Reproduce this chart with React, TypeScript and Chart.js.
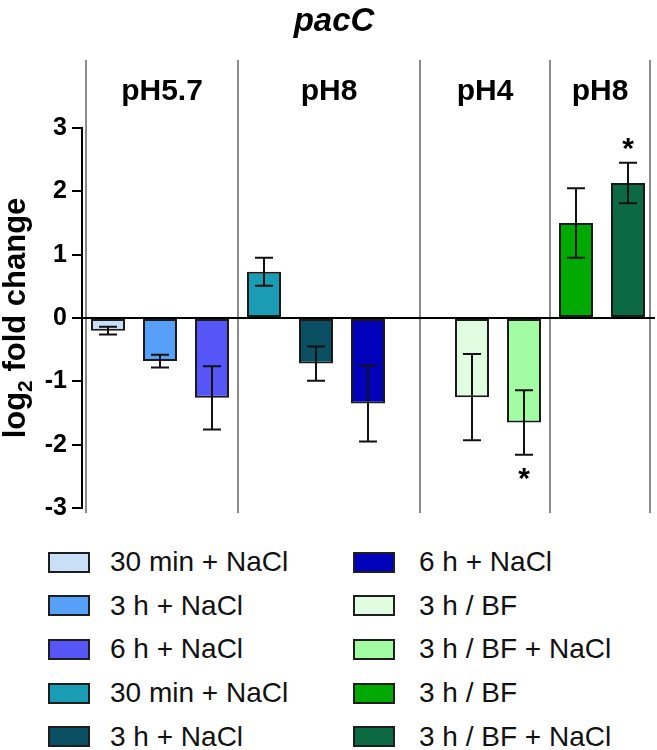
import React, { useEffect, useRef } from "react";
import { Chart, registerables } from "chart.js";

Chart.register(...registerables);

const FONT = '"Liberation Sans", Arial, Helvetica, sans-serif';

// ---- data ----
const chartTitle = "pacC";
const categories = [
  "30 min + NaCl",
  "3 h + NaCl",
  "6 h + NaCl",
  "30 min + NaCl",
  "3 h + NaCl",
  "6 h + NaCl",
  "",
  "3 h / BF",
  "3 h / BF + NaCl",
  "3 h / BF",
  "3 h / BF + NaCl",
];
const meanValues = [-0.2, -0.68, -1.26, 0.73, -0.72, -1.35, null, -1.25, -1.65, 1.5, 2.13];
const errorValues = [0.06, 0.1, 0.5, 0.22, 0.27, 0.6, null, 0.68, 0.51, 0.55, 0.32];
const significant = [false, false, false, false, false, false, false, false, true, false, true];
const barColors = [
  "#c9dff7",
  "#57a0f8",
  "#5656f8",
  "#1a9cb5",
  "#0b4f62",
  "#0202bd",
  "rgba(0,0,0,0)",
  "#e1fde1",
  "#a2fca2",
  "#02a902",
  "#0b6a42",
];
const groupLabels = ["pH5.7", "pH8", "pH4", "pH8"];
// group boundaries in category units
const groupBounds = [-0.5, 2.5, 6, 8.5, 10.5];
const yTicks = [-3, -2, -1, 0, 1, 2, 3];
const yTitleMain = "log";
const yTitleSub = "2";
const yTitleRest = " fold change";

const overlay = {
  id: "overlay",
  beforeDatasetsDraw(chart: any) {
    const ctx = chart.ctx;
    const xs = chart.scales.x;
    const area = chart.chartArea;
    ctx.save();
    ctx.strokeStyle = "#8a8a8a";
    ctx.lineWidth = 2;
    groupBounds.forEach((b, i) => {
      let px = xs.getPixelForValue(b);
      if (i === 0) px += 4;
      if (i === groupBounds.length - 1) px -= 4;
      ctx.beginPath();
      ctx.moveTo(px, 60);
      ctx.lineTo(px, area.bottom + 5);
      ctx.stroke();
    });
    ctx.restore();
  },
  afterDatasetsDraw(chart: any) {
    const ctx = chart.ctx;
    const xs = chart.scales.x;
    const ys = chart.scales.y;
    const area = chart.chartArea;
    ctx.save();
    // zero line
    const y0 = ys.getPixelForValue(0);
    ctx.strokeStyle = "#000";
    ctx.lineWidth = 2;
    ctx.beginPath();
    ctx.moveTo(area.left, y0);
    ctx.lineTo(area.right + 1, y0);
    ctx.stroke();
    // error bars
    ctx.strokeStyle = "#111";
    ctx.lineWidth = 2;
    meanValues.forEach((m, i) => {
      if (m == null) return;
      const e = errorValues[i] as number;
      const cx = xs.getPixelForValue(i);
      const yt = ys.getPixelForValue(m + e);
      const yb = ys.getPixelForValue(m - e);
      ctx.beginPath();
      ctx.moveTo(cx, yt);
      ctx.lineTo(cx, yb);
      ctx.moveTo(cx - 9, yt);
      ctx.lineTo(cx + 9, yt);
      ctx.moveTo(cx - 9, yb);
      ctx.lineTo(cx + 9, yb);
      ctx.stroke();
    });
    // asterisks
    ctx.fillStyle = "#000";
    ctx.font = `bold 30px ${FONT}`;
    ctx.textAlign = "center";
    ctx.textBaseline = "alphabetic";
    const mt = ctx.measureText("*");
    const shift = (mt.actualBoundingBoxAscent - mt.actualBoundingBoxDescent) / 2;
    meanValues.forEach((m, i) => {
      if (m == null || !significant[i]) return;
      const e = errorValues[i] as number;
      const cx = xs.getPixelForValue(i);
      const cy = m >= 0 ? ys.getPixelForValue(m + e) - 19 : ys.getPixelForValue(m - e) + 19;
      ctx.fillText("*", cx, cy + shift);
    });
    // group labels
    ctx.font = `bold 30px ${FONT}`;
    groupLabels.forEach((g, i) => {
      let a = xs.getPixelForValue(groupBounds[i]);
      let b = xs.getPixelForValue(groupBounds[i + 1]);
      if (i === 0) a += 4;
      if (i === groupLabels.length - 1) b -= 4;
      ctx.fillText(g, (a + b) / 2, 100);
    });
    // title
    ctx.font = `italic bold 33px ${FONT}`;
    ctx.fillText(chartTitle, 334, 31);
    // y axis title with subscript
    ctx.translate(25, (area.top + area.bottom) / 2);
    ctx.rotate(-Math.PI / 2);
    ctx.textAlign = "left";
    const mainFont = `bold 31px ${FONT}`;
    const subFont = `bold 21px ${FONT}`;
    ctx.font = mainFont;
    const w1 = ctx.measureText(yTitleMain).width;
    const w3 = ctx.measureText(yTitleRest).width;
    ctx.font = subFont;
    const w2 = ctx.measureText(yTitleSub).width;
    let x0 = -(w1 + w2 + w3) / 2;
    ctx.font = mainFont;
    ctx.fillText(yTitleMain, x0, 0);
    x0 += w1;
    ctx.font = subFont;
    ctx.fillText(yTitleSub, x0, 7);
    x0 += w2;
    ctx.font = mainFont;
    ctx.fillText(yTitleRest, x0, 0);
    ctx.restore();
  },
};

function Legend() {
  const items = categories
    .map((c, i) => ({ label: c, color: barColors[i] }))
    .filter((it) => it.label !== "");
  const perCol = Math.ceil(items.length / 2);
  return (
    <>
      {items.map((it, k) => {
        const col = Math.floor(k / perCol);
        const row = k % perCol;
        const left = col === 0 ? 48 : 353;
        const cy = 562 + row * 43.7;
        return (
          <div
            key={k}
            style={{
              position: "absolute",
              left,
              top: cy - 17,
              height: 34,
              display: "flex",
              alignItems: "center",
              whiteSpace: "nowrap",
            }}
          >
            <div
              style={{
                width: 42,
                height: 21,
                boxSizing: "border-box",
                border: "2px solid #1e1e1e",
                background: it.color,
                marginRight: col === 0 ? 20 : 24,
              }}
            />
            <span style={{ fontFamily: FONT, fontSize: 28, color: "#111", lineHeight: "34px" }}>
              {it.label}
            </span>
          </div>
        );
      })}
    </>
  );
}

export default function App() {
  const ref = useRef<HTMLCanvasElement | null>(null);
  useEffect(() => {
    if (!ref.current) return;
    const chart = new Chart(ref.current, {
      type: "bar",
      data: {
        labels: categories,
        datasets: [
          {
            data: meanValues as any,
            backgroundColor: barColors,
            borderColor: "#1a1a1a",
            borderWidth: 2,
            borderSkipped: false,
            barPercentage: 0.654,
            categoryPercentage: 1,
          },
        ],
      },
      options: {
        responsive: false,
        animation: false,
        layout: { padding: { left: 0, right: 3, top: 128, bottom: 22 } },
        plugins: {
          legend: { display: false },
          tooltip: { enabled: false },
          title: { display: false },
        },
        scales: {
          x: { type: "category", display: false, offset: true, grid: { display: false } },
          y: {
            min: -3,
            max: 3,
            afterBuildTicks: (s: any) => {
              s.ticks = yTicks.map((v) => ({ value: v }));
            },
            afterFit: (s: any) => {
              s.width = 82;
            },
            border: { display: true, color: "#000", width: 2 },
            grid: {
              drawOnChartArea: false,
              drawTicks: true,
              tickLength: 10,
              color: "#000",
              lineWidth: 2,
            },
            ticks: {
              color: "#000",
              padding: 5,
              font: { family: FONT, size: 25, weight: "bold" },
            },
          },
        },
      },
      plugins: [overlay],
    });
    return () => chart.destroy();
  }, []);

  return (
    <div
      style={{
        position: "absolute",
        left: 0,
        top: 0,
        width: 657,
        height: 750,
        background: "#fff",
        overflow: "hidden",
      }}
    >
      <canvas ref={ref} width={657} height={530} style={{ display: "block" }} />
      <Legend />
    </div>
  );
}
